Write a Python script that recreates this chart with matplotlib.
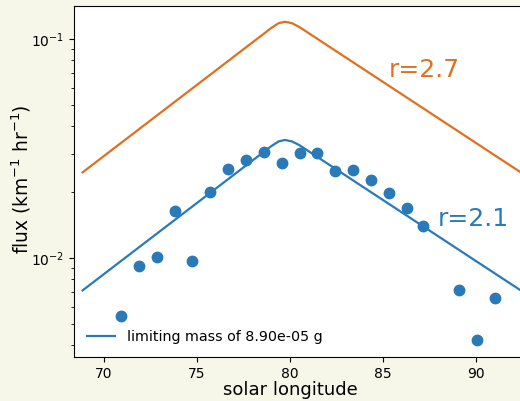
import matplotlib
matplotlib.use("Agg")
import matplotlib.pyplot as plt

# observed fluxes
obs_lon = [70.91, 71.88, 72.85, 73.82, 74.73, 75.70, 76.67, 77.63, 78.60, 79.57,
           80.54, 81.45, 82.42, 83.39, 84.35, 85.32, 86.29, 87.15, 89.09, 90.05, 91.02]
obs_flux = [0.00543, 0.00919, 0.0101, 0.0164, 0.00969, 0.0200, 0.0255, 0.0280, 0.0305, 0.0272,
            0.0302, 0.0302, 0.0250, 0.0252, 0.0227, 0.0198, 0.0169, 0.0140, 0.00714, 0.00423, 0.00656]

# model curves
model_lon = [68.85, 79.0, 79.4, 79.73, 80.1, 80.5, 93.5]
flux_r21 = [0.00711, 0.03244, 0.0341, 0.0346, 0.0341, 0.0328, 0.00618]
flux_r27 = [0.02461, 0.1124, 0.1183, 0.1199, 0.1183, 0.1136, 0.0214]

legend_label = "limiting mass of 8.90e-05 g"
label_r21 = "r=2.1"
label_r27 = "r=2.7"

blue = "#2a7ab9"
orange = "#e0701f"

W, H = 520, 401
fig = plt.figure(figsize=(W / 100, H / 100), dpi=100)
fig.patch.set_facecolor("#f7f7e9")

left_px, right_px, top_px, bot_px = 74, 539, 6, 357
ax = fig.add_axes([left_px / W, 1 - bot_px / H, (right_px - left_px) / W, (bot_px - top_px) / H])
ax.set_facecolor("white")

ax.plot(model_lon, flux_r21, color=blue, lw=1.6, label=legend_label)
ax.plot(model_lon, flux_r27, color=orange, lw=1.6)
ax.plot(obs_lon, obs_flux, "o", color=blue, ms=7.5, ls="none")

ax.set_yscale("log")
ax.set_xlim(68.39, 93.39)
ax.set_ylim(0.00353, 0.1416)
ax.set_xticks([70, 75, 80, 85, 90])

ax.text(85.32, 0.0722, label_r27, color=orange, fontsize=18, ha="left", va="center")
ax.text(87.96, 0.0150, label_r21, color=blue, fontsize=18, ha="left", va="center")

ax.set_xlabel("solar longitude", fontsize=13)
ax.set_ylabel("flux (km$^{-1}$ hr$^{-1}$)", fontsize=13.4)
ax.xaxis.set_label_coords(0.4645, -0.069)
ax.yaxis.set_label_coords(-0.088, 0.508)
ax.tick_params(labelsize=10)

leg = ax.legend(loc="lower left", frameon=False, fontsize=10.3)

fig.savefig("out.png", dpi=100, facecolor=fig.get_facecolor())
